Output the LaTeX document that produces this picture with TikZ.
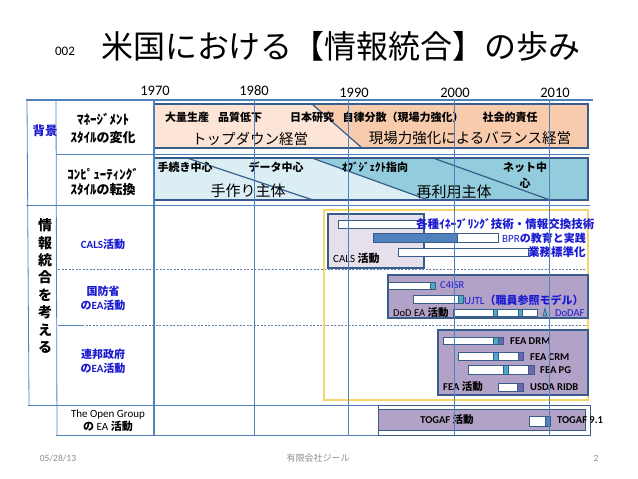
\documentclass[tikz,border=0pt]{standalone}
\usepackage{fontspec}
\setmainfont{Noto Sans CJK JP}
\newfontfamily\latin{Carlito}
\usepackage{tikz}
\usetikzlibrary{positioning}
\definecolor{Grid}{HTML}{4F81BD}
\definecolor{Frame}{HTML}{385D8A}
\definecolor{PeachL}{HTML}{FCE4D6}
\definecolor{PeachD}{HTML}{F8CBAD}
\definecolor{AquaL}{HTML}{DAEEF3}
\definecolor{AquaD}{HTML}{93CDDD}
\definecolor{Lilac}{HTML}{B3A2C7}
\definecolor{LilacL}{HTML}{E6E0EC}
\definecolor{Teal}{HTML}{4BACC6}
\definecolor{Plum}{HTML}{6E67AE}
\definecolor{Gold}{HTML}{F5D76E}
\definecolor{Ink}{HTML}{1A1AD2}
\definecolor{Foot}{HTML}{8C8C8C}
\newcommand{\la}[1]{{\latin #1}}

\begin{document}
\begin{tikzpicture}[x=1pt,y=-1pt,
  every node/.style={inner sep=0pt,align=center},
  grid/.style={Grid,line width=0.8pt},
  dotline/.style={Grid!70!gray,line width=0.6pt,dash pattern=on 2pt off 1.5pt},
  band/.style={draw=Frame,line width=1.5pt},
  cut/.style={Frame,line width=1.2pt},
  era/.style={font=\fontsize{11}{13}\selectfont\bfseries},
  bigtext/.style={font=\fontsize{14.5}{16}\selectfont},
  rowlab/.style={font=\fontsize{13}{18}\selectfont\bfseries},
  act/.style={text=Ink,font=\fontsize{11}{14}\selectfont\bfseries},
  note/.style={anchor=west,text=Ink,font=\fontsize{11.5}{13}\selectfont\bfseries},
  tag/.style={anchor=west,font=\fontsize{10.5}{12}\selectfont\bfseries},
  bar/.style={draw=Frame,fill=white,line width=1pt},
  seg/.style={draw=Frame,line width=1pt},
  box/.style={draw=Frame,fill=Lilac,line width=1.5pt},
  year/.style={font=\latin\fontsize{14.5}{16}\selectfont},
  foot/.style={text=Foot,font=\fontsize{9}{11}\selectfont}
]
\useasboundingbox (0,0) rectangle (638,479);

% title and years
\node[font=\latin\fontsize{13}{15}\selectfont] (num) at (65,51) {002};
\node[font=\fontsize{32}{36}\selectfont] (title) at (341,46) {米国における【情報統合】の歩み};
\node[year] (y70) at (155,91) {1970};
\node[year] (y80) at (254,91) {1980};
\node[year] (y90) at (354,93) {1990};
\node[year] (y00) at (455,93) {2000};
\node[year] (y10) at (555,93) {2010};

% management band
\fill[PeachL] (154,104) rectangle (588,148);
\fill[PeachD] (312,104) -- (588,104) -- (588,148) -- (362,148) -- cycle;
\draw[cut] (312,104) -- (362,148);
\draw[band] (154,104) rectangle (588,148);
\node[era] (mass) at (187,117) {大量生産};
\node[era] (qual) at (240,117) {品質低下};
\node[era] (japan) at (312,117) {日本研究};
\node[era] (auto) at (403,117) {自律分散（現場力強化）};
\node[era] (social) at (510,117) {社会的責任};
\node[bigtext] (topdown) at (250,139) {トップダウン経営};
\node[bigtext] (balance) at (470,138) {現場力強化によるバランス経営};

% computing band
\fill[AquaL] (154,158) rectangle (588,200);
\fill[AquaD] (312,158) -- (588,158) -- (588,200) -- (428,200) -- cycle;
\draw[cut] (187,158) -- (313,200);
\draw[cut] (312,158) -- (428,200);
\draw[cut] (433,158) -- (550,200);
\draw[band] (154,158) rectangle (588,200);
\node[era] (proc) at (185,167) {手続き中心};
\node[era] (data) at (276,167) {データ中心};
\node[era] (obj) at (375,167) {ｵﾌﾞｼﾞｪｸﾄ指向};
\node[era,font=\fontsize{11}{16}\selectfont\bfseries] (net) at (525,175) {ネット中\\心};
\node[bigtext,font=\fontsize{15}{17}\selectfont] (hand) at (248,191) {手作り主体};
\node[bigtext,font=\fontsize{15}{17}\selectfont] (reuse) at (454,192) {再利用主体};

% table lines
\draw[grid,line width=1.5pt] (26,100) -- (593,100);
\draw[grid] (56,154) -- (590,154);
\draw[grid] (26,205) -- (590,205);
\draw[dotline] (58,269) -- (588,269);
\draw[grid,line width=0.6pt] (58,325) -- (82,325);
\draw[dotline] (82,325) -- (588,325);
\draw[grid] (28,405) -- (590,405);
\draw[grid] (56,435) -- (590,435);
\draw[grid] (27,100) -- (29,405);
\draw[grid] (56,100) -- (57,435);

% left labels
\node[act,font=\fontsize{12.5}{14}\selectfont\bfseries] (bg) at (45,131) {背景};
\node[rowlab] (mgmt) at (103,129) {ﾏﾈｰｼﾞﾒﾝﾄ\\ｽﾀｲﾙの変化};
\node[rowlab,font=\fontsize{13}{15}\selectfont\bfseries] (comp) at (103,182) {ｺﾝﾋﾟｭｰﾃｨﾝｸﾞ\\ｽﾀｲﾙの転換};
\node[font=\fontsize{14}{17.4}\selectfont\bfseries] (info) at (45,286) {情\\報\\統\\合\\を\\考\\え\\る};
\node[act] (cals) at (103,244) {\la{CALS}活動};
\node[act] (dod) at (103,298) {国防省\\の\la{EA}活動};
\node[act] (fed) at (103,361) {連邦政府\\の\la{EA}活動};
\node[font=\fontsize{11}{13.5}\selectfont] (tog) at (108,421) {\la{The Open Group}\\\textbf{の} \la{EA} \textbf{活動}};

% integration frame
\draw[Gold,line width=2pt] (324,210) rectangle (588,400);

% CALS
\draw[box,fill=LilacL] (328,214) rectangle (424,268);
\draw[bar] (338,220) rectangle (423,228);
\fill[Grid] (373,233) rectangle (457,242);
\draw[bar] (457,233) rectangle (498,242);
\draw[seg] (373,233) rectangle (498,242);
\draw[bar] (398,248) rectangle (528,256);
\node[note] (enab) at (416,224) {各種ｲﾈｰﾌﾞﾘﾝｸﾞ技術・情報交換技術};
\node[note,font=\fontsize{11}{13}\selectfont\bfseries] (bpr) at (502,238) {\textmd{\la{BPR}}の教育と実践};
\node[note] (std) at (528,252) {業務標準化};
\node[tag,font=\fontsize{11}{13}\selectfont\bfseries] (calsact) at (333,258) {\textmd{\la{CALS}} 活動};

% DoD
\draw[box] (388,275) rectangle (588,318);
\draw[bar] (388,282) rectangle (430,289);
\draw[seg,fill=Teal] (430,282) rectangle (435,289);
\draw[bar] (413,295) rectangle (458,303);
\draw[seg,fill=Teal] (458,295) rectangle (463,303);
\draw[bar] (453,309) rectangle (493,316);
\draw[seg,fill=Teal] (493,309) rectangle (497,316);
\draw[bar] (497,309) rectangle (518,316);
\draw[seg,fill=Teal] (518,309) rectangle (522,316);
\draw[bar] (522,309) rectangle (537,316);
\draw[seg,line width=0.6pt,fill=Teal] (543,316) -- (545,308) -- (547,316) -- cycle;
\node[tag,text=Ink,font=\latin\fontsize{10.5}{12}\selectfont] (c4) at (440,285) {C4ISR};
\node[note,font=\fontsize{11}{13}\selectfont\bfseries] (ujtl) at (464,300) {\textmd{\la{UJTL}}（職員参照モデル）};
\node[tag] (dodact) at (393,313) {\textmd{\la{DoD EA}} 活動};
\node[tag,text=Ink,font=\latin\fontsize{10.5}{12}\selectfont] (dodaf) at (555,313) {DoDAF};

% FEA
\draw[box] (438,330) rectangle (588,395);
\draw[bar] (443,337) rectangle (493,344);
\draw[seg,fill=Teal] (493,337) rectangle (498,344);
\draw[seg,fill=Plum] (498,337) rectangle (503,344);
\draw[bar] (458,352) rectangle (493,360);
\draw[seg,fill=Teal] (493,352) rectangle (498,360);
\draw[bar] (498,352) rectangle (518,360);
\draw[seg,fill=Plum] (518,352) rectangle (523,360);
\draw[bar] (468,365) rectangle (503,374);
\draw[seg,fill=Teal] (503,365) rectangle (508,374);
\draw[bar] (508,365) rectangle (528,374);
\draw[seg,fill=Plum] (528,365) rectangle (534,374);
\draw[bar] (498,383) rectangle (517,391);
\draw[seg,fill=Plum] (517,383) rectangle (523,391);
\node[tag,font=\latin\fontsize{10.5}{12}\selectfont\bfseries] (drm) at (510,341) {FEA DRM};
\node[tag,font=\latin\fontsize{10.5}{12}\selectfont\bfseries] (crm) at (530,357) {FEA CRM};
\node[tag,font=\latin\fontsize{10.5}{12}\selectfont\bfseries] (pg) at (540,370) {FEA PG};
\node[tag,font=\latin\fontsize{10.5}{12}\selectfont\bfseries] (ridb) at (530,387) {USDA RIDB};
\node[tag] (feaact) at (443,387) {\la{FEA} 活動};

% TOGAF
\draw[Frame,line width=0.6pt] (378,405) rectangle (590,435);
\draw[box,line width=1pt] (378,409) rectangle (585,430);
\draw[bar] (529,416) rectangle (545,426);
\draw[seg,fill=Grid] (545,416) rectangle (550,426);
\node[font=\fontsize{10.5}{12}\selectfont\bfseries] (togact) at (447,420) {\la{TOGAF} 活動};
\node[tag,font=\latin\fontsize{10.5}{12}\selectfont\bfseries] (t91) at (557,420) {TOGAF 9.1};

% year grid
\draw[grid,line width=1.5pt] (154,100) -- (154,435);
\draw[grid] (254,100) -- (254,435);
\draw[grid] (348,100) -- (348,435);
\draw[grid] (454,100) -- (454,435);
\draw[grid] (549,100) -- (549,435);

% footer
\node[foot,font=\latin\fontsize{9.5}{11}\selectfont] (date) at (58,458) {05/28/13};
\node[foot] (corp) at (318,458) {有限会社ジール};
\node[foot,font=\latin\fontsize{9.5}{11}\selectfont] (page) at (596,458) {2};
\end{tikzpicture}
\end{document}
